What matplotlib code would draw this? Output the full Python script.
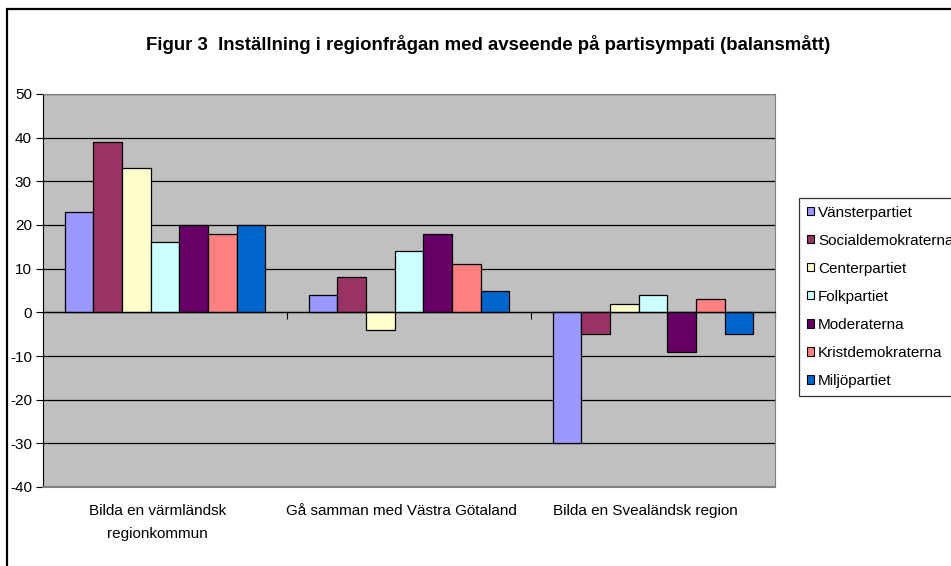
import numpy as np
import matplotlib.pyplot as plt
from matplotlib.patches import Rectangle
from matplotlib.transforms import blended_transform_factory

plt.rcParams['font.family'] = ['Liberation Sans', 'DejaVu Sans']
plt.rcParams['axes.unicode_minus'] = False

categories = ['Bilda en värmländsk\nregionkommun', 'Gå samman med Västra Götaland', 'Bilda en Svealändsk region']
parties = ['Vänsterpartiet', 'Socialdemokraterna', 'Centerpartiet', 'Folkpartiet',
           'Moderaterna', 'Kristdemokraterna', 'Miljöpartiet']
colors = ['#9999FF', '#993366', '#FFFFCC', '#CCFFFF', '#660066', '#FF8080', '#0066CC']

v = [23, 4, -30]
s = [39, 8, -5]
c = [33, -4, 2]
fp = [16, 14, 4]
m = [20, 18, -9]
kd = [18, 11, 3]
mp = [20, 5, -5]
series = [v, s, c, fp, m, kd, mp]

fig = plt.figure(figsize=(9.51, 5.66), dpi=100)
ax = fig.add_axes([43/951, 1 - 487/566, (775 - 43)/951, (487 - 94)/566])
ax.set_facecolor('#C0C0C0')

x = np.arange(len(categories))
w = 0.1176
for i, vals in enumerate(series):
    ax.bar(x + (i - 3) * w, vals, w, color=colors[i], edgecolor='black',
           linewidth=0.9, label=parties[i], zorder=3)

ax.set_xlim(-0.5, 2.5)
ax.set_ylim(-40, 50)
ax.set_yticks(range(-40, 51, 10))
ax.yaxis.grid(True, color='#000000', linewidth=0.9, zorder=0)
ax.tick_params(axis='y', labelsize=11, length=5, width=0.8, direction='out', pad=3)

ax.spines['bottom'].set_position(('data', 0))
ax.spines['bottom'].set_linewidth(0.9)
ax.spines['bottom'].set_zorder(4)
ax.spines['top'].set_color('#808080')
ax.spines['right'].set_color('#808080')
ax.spines['left'].set_color('black')
ax.set_xticks([0.5, 1.5, 2.5])
ax.set_xticklabels([])
ax.tick_params(axis='x', length=5, width=0.8, direction='out')
# grey frame line at the bottom of the plot area
ax.axhline(-40, color='#808080', linewidth=1.5, zorder=4, clip_on=False)

trans = blended_transform_factory(ax.transData, ax.transAxes)
for xi, lab in zip(x, categories):
    ax.text(xi - 0.03, -0.043, lab, transform=trans, ha='center', va='top',
            fontsize=11, linespacing=1.8)

fig.text(488/951, 1 - 45/566, 'Figur 3  Inställning i regionfrågan med avseende på partisympati (balansmått)',
         ha='center', va='center', fontsize=13.4, fontweight='bold')

# legend runs past the right edge, like the original
leg = ax.legend(loc='upper left', bbox_to_anchor=(799/951, 1 - 198/566),
                bbox_transform=fig.transFigure, fontsize=11, frameon=True,
                fancybox=False, borderpad=0.5, labelspacing=0.92,
                handlelength=0.45, handleheight=0.45, handletextpad=0.3,
                borderaxespad=0)
leg.get_frame().set_edgecolor('black')
leg.get_frame().set_linewidth(0.9)
for h in leg.legend_handles:
    h.set_linewidth(0.8)

fig.patches.append(Rectangle((7/951, -0.1), 1.1, 1.1 - 9/566, transform=fig.transFigure,
                             fill=False, edgecolor='black', linewidth=1.6))

fig.savefig('out.png', dpi=100)
